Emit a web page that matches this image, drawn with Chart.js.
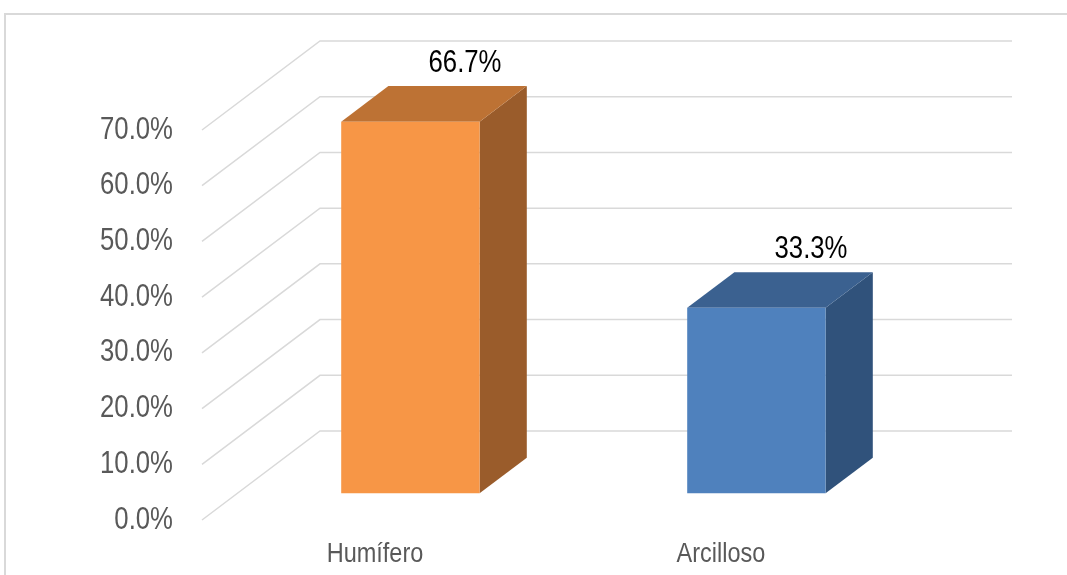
<!DOCTYPE html>
<html>
<head>
<meta charset="utf-8">
<script src="https://cdn.jsdelivr.net/npm/chart.js@4/dist/chart.umd.min.js"></script>
<style>
  html, body { margin: 0; padding: 0; background: #fff; overflow: hidden; }
  .frame {
    position: absolute; left: 4px; top: 13px; width: 1100px; height: 600px;
    border-left: 2px solid #d9d9d9; border-top: 2px solid #d9d9d9;
  }
  #wrap { position: absolute; left: 0; top: 0; width: 1067px; height: 575px; }
</style>
</head>
<body>
<div class="frame"></div>
<div id="wrap"><canvas id="chart"></canvas></div>
<script>
// data
const categories = ['Humífero', 'Arcilloso'];
const values = [66.7, 33.3];
const yTicks = [0, 10, 20, 30, 40, 50, 60, 70];

// styles for the fake 3D look
const frontColors = ['#F79646', '#4F81BD'];
const topColors = ['#BD7234', '#3B6190'];
const sideColors = ['#9A5C2B', '#30527B'];
const depth = { dx: 118, dy: -89 };   // front plane -> back wall
const barNear = 0.3, barFar = 0.7;    // bar depth inside the box
const gridColor = '#d9d9d9';
const textFont = "'Liberation Sans', Arial, sans-serif";

// narrow text (the original uses a condensed face)
function narrowText(ctx, text, x, y, size, squeeze, color, align) {
  ctx.save();
  ctx.font = size + 'px ' + textFont;
  ctx.fillStyle = color;
  ctx.textAlign = align;
  ctx.textBaseline = 'middle';
  ctx.translate(x, y);
  ctx.scale(squeeze, 1);
  ctx.fillText(text, 0, 0);
  ctx.restore();
}

const fake3d = {
  id: 'fake3d',
  beforeDatasetsDraw(chart) {
    const ctx = chart.ctx;
    const y = chart.scales.y;
    const area = chart.chartArea;

    // back wall grid + side diagonals
    ctx.save();
    ctx.strokeStyle = gridColor;
    ctx.lineWidth = 1.5;
    y.ticks.forEach(t => {
      const py = y.getPixelForValue(t.value);
      ctx.beginPath();
      ctx.moveTo(area.left, py);
      ctx.lineTo(area.left + depth.dx, py + depth.dy);
      ctx.lineTo(area.right + depth.dx, py + depth.dy);
      ctx.stroke();
    });
    ctx.restore();

    // top and side faces of the bars
    const meta = chart.getDatasetMeta(0);
    const nx = depth.dx * barNear, ny = depth.dy * barNear;
    const fx = depth.dx * barFar, fy = depth.dy * barFar;
    meta.data.forEach((bar, i) => {
      const p = bar.getProps(['x', 'y', 'base', 'width'], true);
      const xl = p.x - p.width / 2, xr = p.x + p.width / 2;
      ctx.save();
      ctx.fillStyle = sideColors[i];
      ctx.beginPath();
      ctx.moveTo(xr + nx, p.y + ny);
      ctx.lineTo(xr + fx, p.y + fy);
      ctx.lineTo(xr + fx, p.base + fy);
      ctx.lineTo(xr + nx, p.base + ny);
      ctx.closePath();
      ctx.fill();
      ctx.fillStyle = topColors[i];
      ctx.beginPath();
      ctx.moveTo(xl + nx, p.y + ny);
      ctx.lineTo(xr + nx, p.y + ny);
      ctx.lineTo(xr + fx, p.y + fy);
      ctx.lineTo(xl + fx, p.y + fy);
      ctx.closePath();
      ctx.fill();
      ctx.restore();
    });

    // front faces are drawn by Chart.js, shifted into the box
    ctx.save();
    ctx.translate(nx, ny);
  },
  afterDatasetsDraw(chart) {
    const ctx = chart.ctx;
    ctx.restore();

    const x = chart.scales.x, y = chart.scales.y;

    // axis labels, at the library's tick positions
    y.ticks.forEach(t => {
      narrowText(ctx, t.value.toFixed(1) + '%', y.right - 29, y.getPixelForValue(t.value),
        31, 0.83, '#595959', 'right');
    });
    x.ticks.forEach((t, i) => {
      narrowText(ctx, categories[t.value], x.getPixelForTick(i), x.top + 35,
        27, 0.87, '#595959', 'center');
    });

    // value labels
    const meta = chart.getDatasetMeta(0);
    meta.data.forEach((bar, i) => {
      narrowText(ctx, values[i].toFixed(1) + '%', bar.x + 90, bar.y - 85,
        31, 0.83, '#000', 'center');
    });
  }
};

new Chart(document.getElementById('chart'), {
  type: 'bar',
  data: {
    labels: categories,
    datasets: [{
      data: values,
      backgroundColor: frontColors,
      borderWidth: 0,
      categoryPercentage: 0.8,
      barPercentage: 0.5,
      clip: false
    }]
  },
  options: {
    responsive: true,
    maintainAspectRatio: false,
    animation: false,
    layout: { padding: { left: 0, top: 130, right: 173, bottom: 0 } },
    plugins: { legend: { display: false }, tooltip: { enabled: false } },
    scales: {
      x: {
        offset: true,
        grid: { display: false, drawTicks: false },
        border: { display: false },
        ticks: { display: false },
        afterFit(s) { s.height = 55; }
      },
      y: {
        min: 0,
        max: 70,
        afterBuildTicks(s) { s.ticks = yTicks.map(v => ({ value: v })); },
        grid: { display: false, drawTicks: false },
        border: { display: false },
        ticks: { display: false },
        afterFit(s) { s.width = 202; }
      }
    }
  },
  plugins: [fake3d]
});
</script>
</body>
</html>
